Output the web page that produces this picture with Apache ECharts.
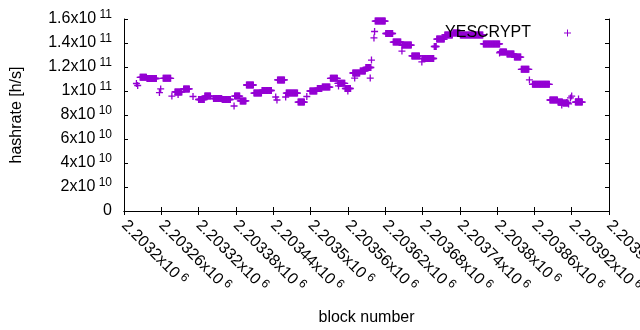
<!DOCTYPE html>
<html>
<head>
<meta charset="utf-8">
<script src="https://cdn.jsdelivr.net/npm/echarts@6/dist/echarts.min.js"></script>
<style>
  html, body { margin: 0; padding: 0; background: #fff; }
  #chart { width: 640px; height: 330px; }
</style>
</head>
<body>
<div id="chart"></div>
<script>
// block ranges where the estimate stays flat: [firstBlock, lastBlock, hashrate]
const flatRuns = [
  [2203226, 2203236, 1.114e11],
  [2203237, 2203252, 1.104e11],
  [2203263, 2203275, 1.106e11],
  [2203282, 2203293, 9.92e10],
  [2203296, 2203305, 1.017e11],
  [2203320, 2203329, 9.29e10],
  [2203330, 2203339, 9.58e10],
  [2203344, 2203357, 9.375e10],
  [2203358, 2203371, 9.29e10],
  [2203378, 2203386, 9.58e10],
  [2203387, 2203396, 9.17e10],
  [2203397, 2203408, 1.05e11],
  [2203409, 2203421, 9.83e10],
  [2203422, 2203437, 1.004e11],
  [2203447, 2203458, 1.092e11],
  [2203461, 2203479, 9.83e10],
  [2203480, 2203490, 9.08e10],
  [2203499, 2203510, 1.0e11],
  [2203511, 2203518, 1.021e11],
  [2203519, 2203531, 1.033e11],
  [2203532, 2203543, 1.106e11],
  [2203544, 2203555, 1.064e11],
  [2203556, 2203564, 1.021e11],
  [2203568, 2203579, 1.15e11],
  [2203580, 2203588, 1.167e11],
  [2203589, 2203597, 1.196e11],
  [2203604, 2203620, 1.583e11],
  [2203621, 2203632, 1.479e11],
  [2203633, 2203645, 1.408e11],
  [2203647, 2203662, 1.383e11],
  [2203663, 2203675, 1.292e11],
  [2203680, 2203698, 1.271e11],
  [2203699, 2203702, 1.371e11],
  [2203703, 2203715, 1.433e11],
  [2203716, 2203728, 1.467e11],
  [2203729, 2203740, 1.483e11],
  [2203741, 2203777, 1.467e11],
  [2203778, 2203804, 1.392e11],
  [2203805, 2203815, 1.325e11],
  [2203816, 2203827, 1.308e11],
  [2203828, 2203838, 1.283e11],
  [2203839, 2203851, 1.181e11],
  [2203857, 2203884, 1.056e11],
  [2203885, 2203897, 9.25e10],
  [2203898, 2203905, 9.08e10],
  [2203906, 2203914, 9.0e10],
  [2203926, 2203937, 9.08e10]
];

// isolated blocks
const singleBlocks = [
  [2203220, 1.0625e11], [2203222, 1.046e11],
  [2203257, 9.87e10], [2203259, 1.017e11],
  [2203277, 9.58e10], [2203287, 9.7e10], [2203311, 9.54e10],
  [2203377, 8.75e10],
  [2203444, 9.5e10], [2203446, 9.25e10], [2203460, 9.5e10],
  [2203494, 9.54e10],
  [2203545, 1.042e11], [2203560, 1.0e11], [2203571, 1.108e11],
  [2203596, 1.108e11], [2203598, 1.258e11], [2203602, 1.442e11], [2203603, 1.496e11],
  [2203647, 1.333e11], [2203679, 1.242e11],
  [2203804, 1.317e11], [2203852, 1.092e11],
  [2203904, 8.83e10], [2203912, 9.04e10], [2203915, 8.92e10],
  [2203918, 9.42e10], [2203920, 9.58e10], [2203931, 9.33e10]
];

const xMin = 2203200, xMax = 2203980, xStep = 60;
const yMin = 0, yMax = 1.6e11, yStep = 2e10;

const points = [];
for (const [a, b, v] of flatRuns) {
  for (let blk = a; blk <= b; blk++) points.push([blk, v]);
}
for (const p of singleBlocks) points.push(p);

const PLUS = "path://M0,2.85H7V4.15H0Z M2.85,0H4.15V7H2.85Z";
const KEY_PLUS = "path://M0,3H7V4H0Z M3,0H4V7H3Z";
const FONT = "'Liberation Sans', Arial, sans-serif";
const sciRich = {
  m: { fontSize: 16, lineHeight: 20, fontFamily: FONT, color: "#000" },
  s: { fontSize: 12, lineHeight: 12, fontFamily: FONT, color: "#000", verticalAlign: "top" }
};

function trimNum(n, d) {
  return n.toFixed(d).replace(/\.?0+$/, "");
}
function xLabel(v) {
  return "{m|" + trimNum(v / 1e6, 5) + "x10}{s| 6}";
}
function yLabel(v) {
  if (v === 0) return "{m|0}";
  const e = Math.floor(Math.log10(v) + 1e-9);
  return "{m|" + trimNum(v / Math.pow(10, e), 1) + "x10}{s| " + e + "}";
}

const axisLine = { lineStyle: { color: "#000", width: 1 } };
const tick = { inside: true, length: 4, lineStyle: { color: "#000" } };

const chart = echarts.init(document.getElementById("chart"), null, { renderer: "canvas" });
chart.setOption({
  animation: false,
  backgroundColor: "#fff",
  grid: { left: 124, right: 31, top: 19, bottom: 119, outerBoundsMode: "none" },
  legend: {
    data: ["YESCRYPT"],
    right: 69,
    top: 25,
    padding: 0,
    align: "right",
    icon: KEY_PLUS,
    itemWidth: 63,
    itemHeight: 7,
    textStyle: { fontSize: 16, fontFamily: FONT, color: "#000" }
  },
  xAxis: [
    {
      type: "value", min: xMin, max: xMax, interval: xStep,
      axisLine: axisLine, axisTick: tick, splitLine: { show: false },
      axisLabel: {
        rotate: -45, margin: 12, formatter: xLabel, rich: sciRich,
        showMinLabel: true, showMaxLabel: true
      },
      name: "block number", nameLocation: "middle", nameGap: 99,
      nameTextStyle: { fontSize: 16, fontFamily: FONT, color: "#000" }
    },
    {
      type: "value", position: "top", min: xMin, max: xMax, interval: xStep,
      axisLine: axisLine, axisTick: tick, axisLabel: { show: false }, splitLine: { show: false }
    }
  ],
  yAxis: [
    {
      type: "value", min: yMin, max: yMax, interval: yStep,
      axisLine: axisLine, axisTick: tick, splitLine: { show: false },
      axisLabel: { margin: 12, formatter: yLabel, rich: sciRich },
      name: "hashrate [h/s]", nameLocation: "middle", nameGap: 99,
      nameTextStyle: { fontSize: 16, fontFamily: FONT, color: "#000" }
    },
    {
      type: "value", position: "right", min: yMin, max: yMax, interval: yStep,
      axisLine: axisLine, axisTick: tick, axisLabel: { show: false }, splitLine: { show: false }
    }
  ],
  series: [
    {
      name: "YESCRYPT",
      type: "scatter",
      data: points,
      symbol: PLUS,
      symbolSize: 7,
      itemStyle: { color: "#9400D3", opacity: 1 },
      large: false
    }
  ]
});
</script>
</body>
</html>
